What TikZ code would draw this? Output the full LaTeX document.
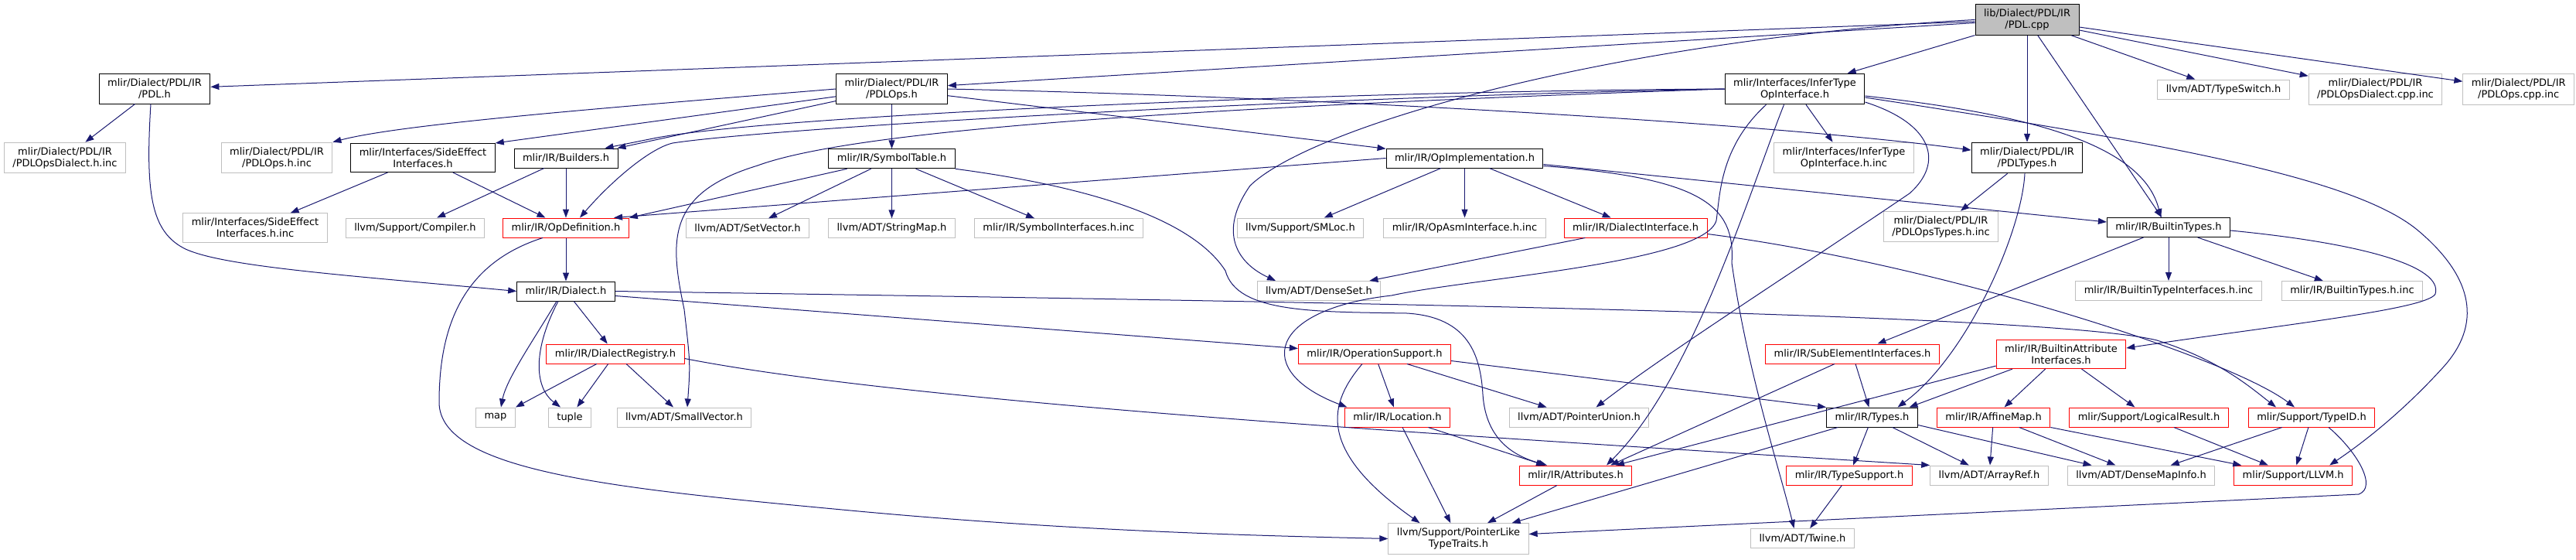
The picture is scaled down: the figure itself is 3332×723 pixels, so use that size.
\documentclass[tikz,border=0pt]{standalone}
\usepackage{fontspec}
\setmainfont{DejaVu Sans}
\usetikzlibrary{positioning,arrows.meta}
\definecolor{edgeblue}{HTML}{191970}
\definecolor{nodocgray}{HTML}{BFBFBF}

\begin{document}
\begin{tikzpicture}[
    x=1pt, y=-1pt,
    font=\fontsize{13}{15}\selectfont,
    node distance=24pt,
    box/.style={
        draw=#1,
        fill=white,
        line width=1pt,
        align=center,
        minimum height=25pt,
        inner xsep=11pt,
        inner ysep=6pt
    },
    root/.style={box=black, fill=nodocgray},
    arrow/.style={-{Triangle[length=11pt,width=8pt]}, line width=1pt, draw=edgeblue}
]
\useasboundingbox (0,0) rectangle (3332,723);

\node[root] (pdlcpp) at (2622,25.5) {lib/Dialect/PDL/IR\\/PDL.cpp};

\node[box=black] (pdlh) at (200,115) {mlir/Dialect/PDL/IR\\/PDL.h};
\node[box=black] (pdlops) at (1153.5,115) {mlir/Dialect/PDL/IR\\/PDLOps.h};
\node[box=black] (infertype) at (2321.5,115) {mlir/Interfaces/InferType\\OpInterface.h};
\node[box=nodocgray] (typeswitch) at (2876,115.5) {llvm/ADT/TypeSwitch.h};
\node[box=nodocgray, right=of typeswitch] (dialectcppinc) {mlir/Dialect/PDL/IR\\/PDLOpsDialect.cpp.inc};
\node[box=nodocgray, right=26pt of dialectcppinc] (opscppinc) {mlir/Dialect/PDL/IR\\/PDLOps.cpp.inc};

\node[box=nodocgray] (dialecthinc) at (84,204) {mlir/Dialect/PDL/IR\\/PDLOpsDialect.h.inc};
\node[box=nodocgray] (opshinc) at (358,204) {mlir/Dialect/PDL/IR\\/PDLOps.h.inc};
\node[box=black] (sideeffect) at (547,204) {mlir/Interfaces/SideEffect\\Interfaces.h};
\node[box=black] (builders) at (732,204.5) {mlir/IR/Builders.h};
\node[box=black, below=57pt of pdlops] (symboltable) {mlir/IR/SymbolTable.h};
\node[box=black] (opimpl) at (1894.5,204.5) {mlir/IR/OpImplementation.h};
\node[box=nodocgray] (infertypeinc) at (2385,204) {mlir/Interfaces/InferType\\OpInterface.h.inc};
\node[box=black, below=138pt of pdlcpp] (pdltypes) {mlir/Dialect/PDL/IR\\/PDLTypes.h};

\node[box=red, below=64pt of builders] (opdef) {mlir/IR/OpDefinition.h};
\node[box=nodocgray, left=23pt of opdef] (compiler) {llvm/Support/Compiler.h};
\node[box=nodocgray, left=23pt of compiler] (sideeffectinc) {mlir/Interfaces/SideEffect\\Interfaces.h.inc};
\node[box=nodocgray, below=64pt of symboltable] (stringmap) {llvm/ADT/StringMap.h};
\node[box=nodocgray, left=of stringmap] (setvector) {llvm/ADT/SetVector.h};
\node[box=nodocgray, right=of stringmap] (symifinc) {mlir/IR/SymbolInterfaces.h.inc};
\node[box=nodocgray, below=64pt of opimpl] (opasminc) {mlir/IR/OpAsmInterface.h.inc};
\node[box=nodocgray, left=25pt of opasminc] (smloc) {llvm/Support/SMLoc.h};
\node[box=red, right=23pt of opasminc] (dialectif) {mlir/IR/DialectInterface.h};
\node[box=nodocgray] (pdltypesinc) at (2510.5,293) {mlir/Dialect/PDL/IR\\/PDLOpsTypes.h.inc};
\node[box=black] (builtintypes) at (2805,294) {mlir/IR/BuiltinTypes.h};

\node[box=black, below=56pt of opdef] (dialect) {mlir/IR/Dialect.h};
\node[box=nodocgray] (denseset) at (1706,376) {llvm/ADT/DenseSet.h};
\node[box=nodocgray, below=56pt of builtintypes] (btifinc) {mlir/IR/BuiltinTypeInterfaces.h.inc};
\node[box=nodocgray, right=25pt of btifinc] (btinc) {mlir/IR/BuiltinTypes.h.inc};

\node[box=red] (registry) at (796,457.5) {mlir/IR/DialectRegistry.h};
\node[box=red] (opsupport) at (1778,457.5) {mlir/IR/OperationSupport.h};
\node[box=red] (subelem) at (2396,457.5) {mlir/IR/SubElementInterfaces.h};
\node[box=red] (battrif) at (2666,458) {mlir/IR/BuiltinAttribute\\Interfaces.h};

\node[box=nodocgray] (map) at (641,539.5) {map};
\node[box=nodocgray] (tuple) at (737,539.5) {tuple};
\node[box=nodocgray] (smallvec) at (885,539.5) {llvm/ADT/SmallVector.h};
\node[box=red] (location) at (1807.5,539.5) {mlir/IR/Location.h};
\node[box=nodocgray] (ptrunion) at (2042.5,539.5) {llvm/ADT/PointerUnion.h};
\node[box=black] (types) at (2421.5,539.5) {mlir/IR/Types.h};
\node[box=red, right=of types] (affinemap) {mlir/IR/AffineMap.h};
\node[box=red, right=of affinemap] (logicalres) {mlir/Support/LogicalResult.h};
\node[box=red, right=25pt of logicalres] (typeid) {mlir/Support/TypeID.h};

\node[box=red] (attributes) at (2038,614.5) {mlir/IR/Attributes.h};
\node[box=red] (typesupport) at (2392,614.5) {mlir/IR/TypeSupport.h};
\node[box=nodocgray] (arrayref) at (2573,614.5) {llvm/ADT/ArrayRef.h};
\node[box=nodocgray, right=of arrayref] (densemapinfo) {llvm/ADT/DenseMapInfo.h};
\node[box=red, right=of densemapinfo] (llvmh) {mlir/Support/LLVM.h};

\node[box=nodocgray] (ptrlike) at (1886.5,696.5) {llvm/Support/PointerLike\\TypeTraits.h};
\node[box=nodocgray] (twine) at (2331.5,696) {llvm/ADT/Twine.h};

\draw[arrow] (pdlcpp) -- (pdlh);
\draw[arrow] (pdlcpp) -- (pdlops);
\draw[arrow] (pdlcpp) -- (infertype);
\draw[arrow] (pdlcpp.west) .. controls (2100,50) and (1700,160) .. (1617,240) .. controls (1575,300) and (1600,340) .. ([xshift=-56pt]denseset.north);
\draw[arrow] (pdlcpp) -- (pdltypes);
\draw[arrow] (pdlcpp) -- (builtintypes);
\draw[arrow] (pdlcpp) -- (typeswitch);
\draw[arrow] (pdlcpp) -- (dialectcppinc);
\draw[arrow] (pdlcpp) -- (opscppinc);

\draw[arrow] (pdlh) -- (dialecthinc);
\draw[arrow] ([xshift=-5pt]pdlh.south) .. controls (188,250) and (195,300) .. (240,322) .. controls (290,345) and (450,356) .. (dialect.west);

\draw[arrow] (pdlops.west) .. controls (800,138) and (520,160) .. (opshinc.north east);
\draw[arrow] (pdlops) -- (sideeffect.north east);
\draw[arrow] (pdlops) -- ([xshift=-1pt]builders.north east);
\draw[arrow] (pdlops) -- (symboltable);
\draw[arrow] (pdlops) -- (opimpl);
\draw[arrow] (pdlops.east) .. controls (1700,125) and (2300,160) .. ([yshift=10pt]pdltypes.west);

\draw[arrow] (infertype.west) .. controls (1700,118) and (1000,150) .. (850,178) .. controls (820,184) .. ([xshift=-17pt]builders.north east);
\draw[arrow] (infertype.west) .. controls (1700,125) and (1000,165) .. (870,185) .. controls (840,192) and (790,235) .. ([xshift=18pt]opdef.north);
\draw[arrow] (infertype.west) .. controls (1500,140) and (1100,170) .. (980,214) .. controls (862,250) and (866,310) .. (885,400) .. controls (893,470) .. ([xshift=4pt]smallvec.north);
\draw[arrow] ([xshift=-37pt]infertype.south) .. controls (2225,190) and (2225,250) .. (2220,285) .. controls (2205,340) and (1900,360) .. (1800,382) .. controls (1640,400) and (1620,480) .. ([xshift=-65pt]location.north);
\draw[arrow] ([xshift=-14pt]infertype.south) .. controls (2262,250) and (2190,490) .. ([xshift=40pt]attributes.north);
\draw[arrow] (infertype) -- (infertypeinc);
\draw[arrow] ([yshift=-17pt]infertype.east) .. controls (2500,160) and (2515,210) .. (2470,250) .. controls (2330,345) and (2150,460) .. ([xshift=22pt]ptrunion.north);
\draw[arrow] ([yshift=-9pt]infertype.east) .. controls (2600,145) and (2770,180) .. ([xshift=-10pt]builtintypes.north);
\draw[arrow] ([yshift=-11pt]infertype.east) .. controls (2800,185) and (3050,230) .. (3130,300) .. controls (3200,360) and (3210,420) .. (3160,475) .. controls (3110,530) and (3060,570) .. ([xshift=47pt]llvmh.north);

\draw[arrow] (sideeffect) -- (sideeffectinc);
\draw[arrow] (sideeffect) -- (opdef);
\draw[arrow] (builders) -- (compiler);
\draw[arrow] (builders) -- (opdef);

\draw[arrow] (symboltable) -- (opdef.north east);
\draw[arrow] (symboltable) -- (setvector);
\draw[arrow] (symboltable) -- (stringmap);
\draw[arrow] (symboltable) -- (symifinc);
\draw[arrow] (symboltable.south east) .. controls (1400,240) and (1540,280) .. (1585,350) .. controls (1600,405) and (1700,403) .. (1820,405) .. controls (1900,410) and (1915,460) .. (1918,510) .. controls (1922,570) and (1960,590) .. ([xshift=-37pt]attributes.north);

\draw[arrow] (opimpl.west) -- ([xshift=62pt]opdef.north);
\draw[arrow] (opimpl) -- (smloc);
\draw[arrow] (opimpl) -- (opasminc);
\draw[arrow] (opimpl) -- (dialectif);
\draw[arrow] ([yshift=-8pt]opimpl.east) -- ([yshift=7pt]builtintypes.west);
\draw[arrow] ([yshift=-10pt]opimpl.east) .. controls (2200,230) and (2245,265) .. (2240,340) .. controls (2260,480) and (2300,600) .. ([xshift=-11pt]twine.north);

\draw[arrow] (dialectif) -- (denseset);
\draw[arrow] ([yshift=-8pt]dialectif.east) .. controls (2500,340) and (2880,460) .. ([xshift=-22pt]typeid.north);

\draw[arrow] (pdltypes) -- (pdltypesinc);
\draw[arrow] ([xshift=-3pt]pdltypes.south) .. controls (2615,300) and (2545,460) .. ([xshift=33pt]types.north);

\draw[arrow] (builtintypes) -- (btifinc);
\draw[arrow] (builtintypes) -- (btinc);
\draw[arrow] (builtintypes) -- (subelem);
\draw[arrow] ([yshift=-4pt]builtintypes.east) .. controls (3060,315) and (3160,345) .. (3150,380) .. controls (3140,400) and (2950,420) .. ([yshift=8pt]battrif.east);

\draw[arrow] (dialect) -- (registry);
\draw[arrow] ([yshift=-6pt]dialect.east) -- ([yshift=7pt]opsupport.west);
\draw[arrow] ([xshift=-12pt]dialect.south) .. controls (690,440) and (655,490) .. ([xshift=7pt]map.north);
\draw[arrow] ([xshift=-10pt]dialect.south) .. controls (690,450) and (690,500) .. ([xshift=-12pt]tuple.north);
\draw[arrow] (dialect.east) .. controls (1700,390) and (2650,405) .. (2790,440) .. controls (2870,465) and (2910,500) .. ([xshift=-46pt]typeid.north);

\draw[arrow] (registry) -- (map.north east);
\draw[arrow] (registry) -- (tuple);
\draw[arrow] (registry) -- (smallvec);
\draw[arrow] ([yshift=-6pt]registry.east) .. controls (1200,525) and (2000,570) .. (arrayref.north west);

\draw[arrow] (opdef) -- (dialect);
\draw[arrow] ([xshift=-30pt]opdef.south) .. controls (600,340) and (568,420) .. (568,520) .. controls (568,610) and (800,632) .. (1100,660) .. controls (1400,688) and (1650,693) .. (ptrlike.west);

\draw[arrow] (location) -- (attributes);
\draw[arrow] (location) -- (ptrlike);
\draw[arrow] (attributes) -- (ptrlike);

\draw[arrow] (opsupport) -- (location);
\draw[arrow] ([xshift=-16pt]opsupport.south) .. controls (1720,520) and (1700,580) .. ([xshift=-50pt]ptrlike.north);
\draw[arrow] (opsupport) -- (ptrunion);
\draw[arrow] ([yshift=-9pt]opsupport.east) -- (types.north west);

\draw[arrow] (subelem) -- (types);
\draw[arrow] ([xshift=-23pt]subelem.south) -- ([xshift=45pt]attributes.north);
\draw[arrow] ([yshift=-15pt]battrif.west) -- ([xshift=52pt]attributes.north);
\draw[arrow] ([xshift=-63pt]battrif.south) -- ([xshift=48pt]types.north);
\draw[arrow] (battrif) -- (affinemap);
\draw[arrow] (battrif) -- (logicalres);

\draw[arrow] (types) -- (ptrlike);
\draw[arrow] (types) -- (typesupport);
\draw[arrow] (types) -- (arrayref);
\draw[arrow] ([yshift=-10pt]types.east) -- ([xshift=-64pt]densemapinfo.north);
\draw[arrow] (typesupport) -- (twine);

\draw[arrow] (affinemap) -- (arrayref);
\draw[arrow] (affinemap) -- (densemapinfo);
\draw[arrow] (affinemap.south east) -- ([xshift=10pt]llvmh.north west);
\draw[arrow] (logicalres) -- (llvmh);
\draw[arrow] (typeid) -- (densemapinfo);
\draw[arrow] (typeid) -- (llvmh);
\draw[arrow] ([xshift=22pt]typeid.south) .. controls (3050,585) and (3075,630) .. (3051,639) -- ([yshift=6pt]ptrlike.east);

\end{tikzpicture}
\end{document}
